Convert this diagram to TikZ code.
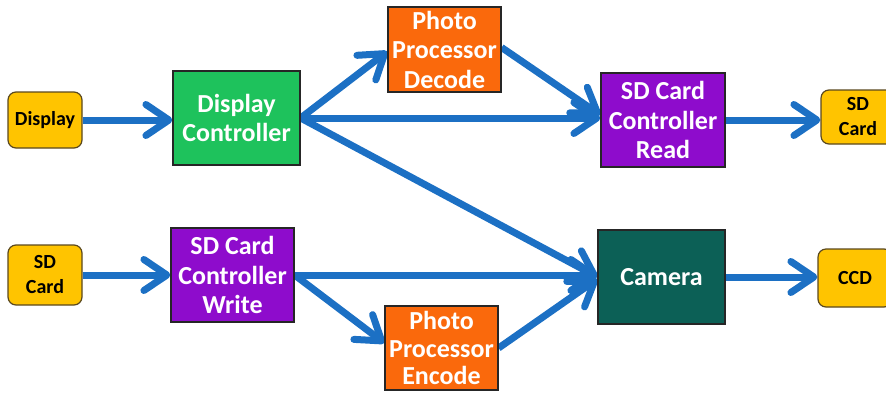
\documentclass[tikz,border=0pt]{standalone}
\usepackage{fontspec}
\setmainfont{Carlito}
\usetikzlibrary{arrows.meta,backgrounds}
\definecolor{flowblue}{RGB}{28,112,196}
\definecolor{portyellow}{RGB}{255,196,0}
\definecolor{portedge}{RGB}{90,72,30}
\definecolor{ctrlgreen}{RGB}{30,194,92}
\definecolor{procorange}{RGB}{250,105,12}
\definecolor{sdpurple}{RGB}{142,12,204}
\definecolor{camteal}{RGB}{12,96,86}
\tikzset{
  x=1pt, y=-1pt,
  port/.style={draw=portedge, line width=1.2pt, fill=portyellow, rounded corners=8pt,
    minimum width=74pt, minimum height=56pt, inner sep=0pt, align=center,
    font=\fontsize{20}{25}\selectfont\bfseries, text=black},
  block/.style={draw=black!85, line width=1.2pt, inner sep=0pt, align=center,
    font=\fontsize{26}{29.5}\selectfont\bfseries, text=white},
  tightblock/.style={block, font=\fontsize{26}{27.5}\selectfont\bfseries},
  flow/.style={draw=flowblue, line width=7pt,
    -{Straight Barb[length=23pt,width=31pt,round]}},
}
\begin{document}
\begin{tikzpicture}
\useasboundingbox (0,0) rectangle (886,392);
% input and output ports
\node[port] (disp) at (45,120) {Display};
\node[port, minimum height=60pt] (sdin) at (45,275) {SD\\Card};
\node[port, minimum height=54pt] (sdout) at (858,117) {SD\\Card};
\node[port, minimum height=58pt] (ccd) at (855,278) {CCD};
% processing blocks
\node[block, fill=ctrlgreen, minimum width=127pt, minimum height=94pt] (dc) at (236.5,118) {Display\\Controller};
\node[block, fill=procorange, minimum width=113pt, minimum height=85pt] (ppd) at (444.5,49.5) {Photo\\Processor\\Decode};
\node[block, fill=sdpurple, minimum width=124pt, minimum height=94pt] (sdr) at (663,120) {SD Card\\Controller\\Read};
\node[block, fill=sdpurple, minimum width=123pt, minimum height=94pt] (sdw) at (232.5,275) {SD Card\\Controller\\Write};
\node[tightblock, fill=procorange, minimum width=113pt, minimum height=84pt] (ppe) at (441.5,348) {Photo\\Processor\\Encode};
\node[block, fill=camteal, minimum width=127pt, minimum height=94pt] (cam) at (661.5,277) {Camera};
% data flow
\begin{scope}[on background layer]
\draw[flow] (disp.east) -- (disp.east -| dc.west);
\draw[flow] (dc.east) -- ([yshift=-2pt]ppd.west);
\draw[flow] (dc.east) -- (dc.east -| sdr.west);
\draw[flow] ([yshift=2pt]ppd.east) -- ([yshift=5pt]sdr.west);
\draw[flow] (dc.east) -- (cam.west);
\draw[flow] (sdr.east) -- (sdr.east -| sdout.west);
\draw[flow] (sdin.east) -- (sdin.east -| sdw.west);
\draw[flow] (sdw.east) -- (sdw.east -| cam.west);
\draw[flow] (sdw.east) -- ([yshift=5pt]ppe.west);
\draw[flow] (ppe.east) -- ([yshift=-2pt]cam.west);
\draw[flow] (cam.east) -- (cam.east -| ccd.west);
\end{scope}
\end{tikzpicture}
\end{document}
